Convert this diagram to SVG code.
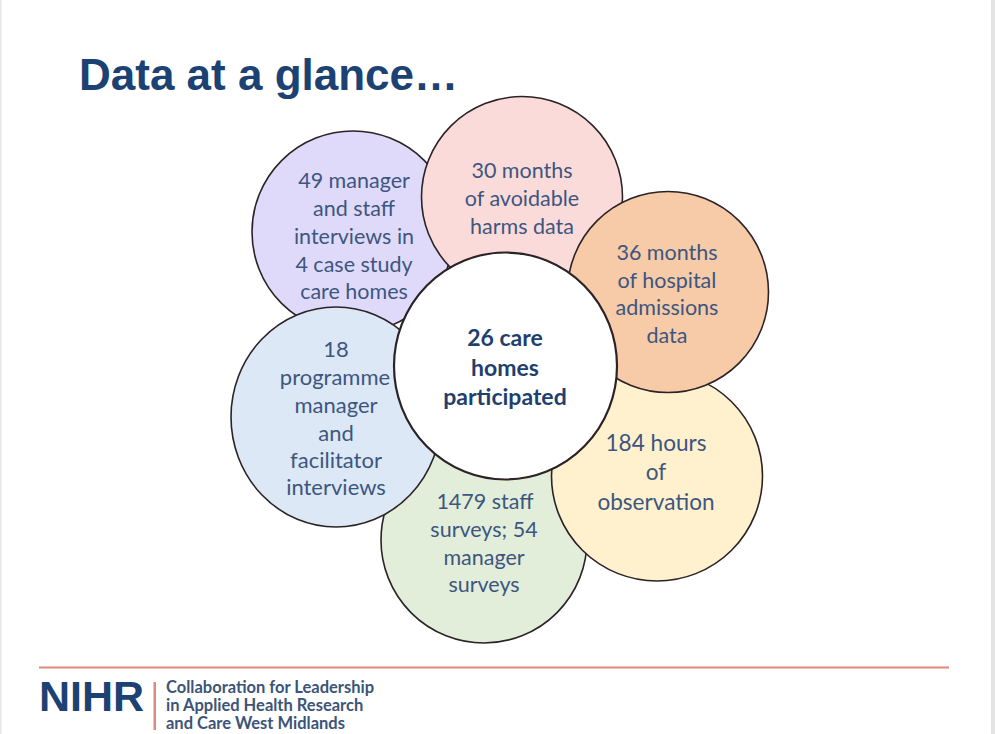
<svg xmlns="http://www.w3.org/2000/svg" width="995" height="734" viewBox="0 0 995 734">
<style>
.c{stroke:#2b2326;stroke-width:1.6}
.t{font-family:Lato,"Open Sans",sans-serif;font-size:21.5px;fill:#3d5680;text-anchor:middle}
.y{font-size:22.6px}
.m{font-size:22px}
.b{font-size:23px;font-weight:700;fill:#1f3f6e}
.f{font-family:Lato,"Open Sans",sans-serif;font-size:16.5px;font-weight:700;fill:#3c5478}
</style>
<rect width="995" height="734" fill="#fff"/>
<rect x="0" y="0" width="1.5" height="734" fill="#e6e6e6"/>
<rect x="991" y="0" width="4" height="734" fill="#e4e4e4"/>
<text id="title" x="79" y="90" font-family="Liberation Sans,Arial,sans-serif" font-size="44px" font-weight="700" fill="#1c4273">Data at a glance…</text>
<g id="connectors"/>
<g id="purple"><circle class="c" cx="353" cy="232" r="101" fill="#e0dafa"/>
<text class="t"><tspan x="354" y="188">49 manager</tspan><tspan x="354" y="216">and staff</tspan><tspan x="354" y="244">interviews in</tspan><tspan x="354" y="272">4 case study</tspan><tspan x="354" y="299">care homes</tspan></text></g>
<g id="green"><circle class="c" cx="484" cy="540" r="103" fill="#e2eed9"/>
<text class="t"><tspan x="485" y="509">1479 staff</tspan><tspan x="484" y="537">surveys; 54</tspan><tspan x="484" y="565">manager</tspan><tspan x="484" y="592">surveys</tspan></text></g>
<g id="yellow"><ellipse class="c" cx="657" cy="476" rx="105.500" ry="105" fill="#fff1cd"/>
<text class="t y"><tspan x="656" y="451">184 hours</tspan><tspan x="656" y="480">of</tspan><tspan x="656" y="510">observation</tspan></text></g>
<g id="pink"><circle class="c" cx="522" cy="197" r="100.500" fill="#fbdbd9"/>
<text class="t"><tspan x="522" y="178">30 months</tspan><tspan x="522" y="206">of avoidable</tspan><tspan x="522" y="234">harms data</tspan></text></g>
<g id="orange"><circle class="c" cx="668" cy="292" r="100.500" fill="#f7caa8"/>
<text class="t"><tspan x="667" y="260">36 months</tspan><tspan x="667" y="288">of hospital</tspan><tspan x="667" y="315">admissions</tspan><tspan x="667" y="343">data</tspan></text></g>
<g id="blue"><ellipse class="c" cx="336" cy="417" rx="105" ry="110" fill="#dce8f5"/>
<text class="t m"><tspan x="336" y="357">18</tspan><tspan x="335" y="385">programme</tspan><tspan x="336" y="413">manager</tspan><tspan x="336" y="441">and</tspan><tspan x="336" y="468">facilitator</tspan><tspan x="336" y="495">interviews</tspan></text></g>
<g id="center"><ellipse class="c" cx="505.500" cy="366" rx="111.500" ry="113.500" fill="#fff" style="stroke-width:2.200"/>
<text class="t b"><tspan x="505" y="346">26 care</tspan><tspan x="505" y="376">homes</tspan><tspan x="505" y="405">participated</tspan></text></g>
<g id="footer">
<rect x="39" y="666.500" width="910" height="2" fill="#e2897f"/>
<text x="39" y="711" font-family="Liberation Sans,Arial,sans-serif" font-size="43px" font-weight="700" fill="#1c4273">NIHR</text>
<rect x="153.500" y="682" width="2.500" height="48" fill="#e2897f"/>
<text class="f"><tspan x="166" y="693">Collaboration for Leadership</tspan><tspan x="166" y="711">in Applied Health Research</tspan><tspan x="166" y="729">and Care West Midlands</tspan></text>
</g>
</svg>
